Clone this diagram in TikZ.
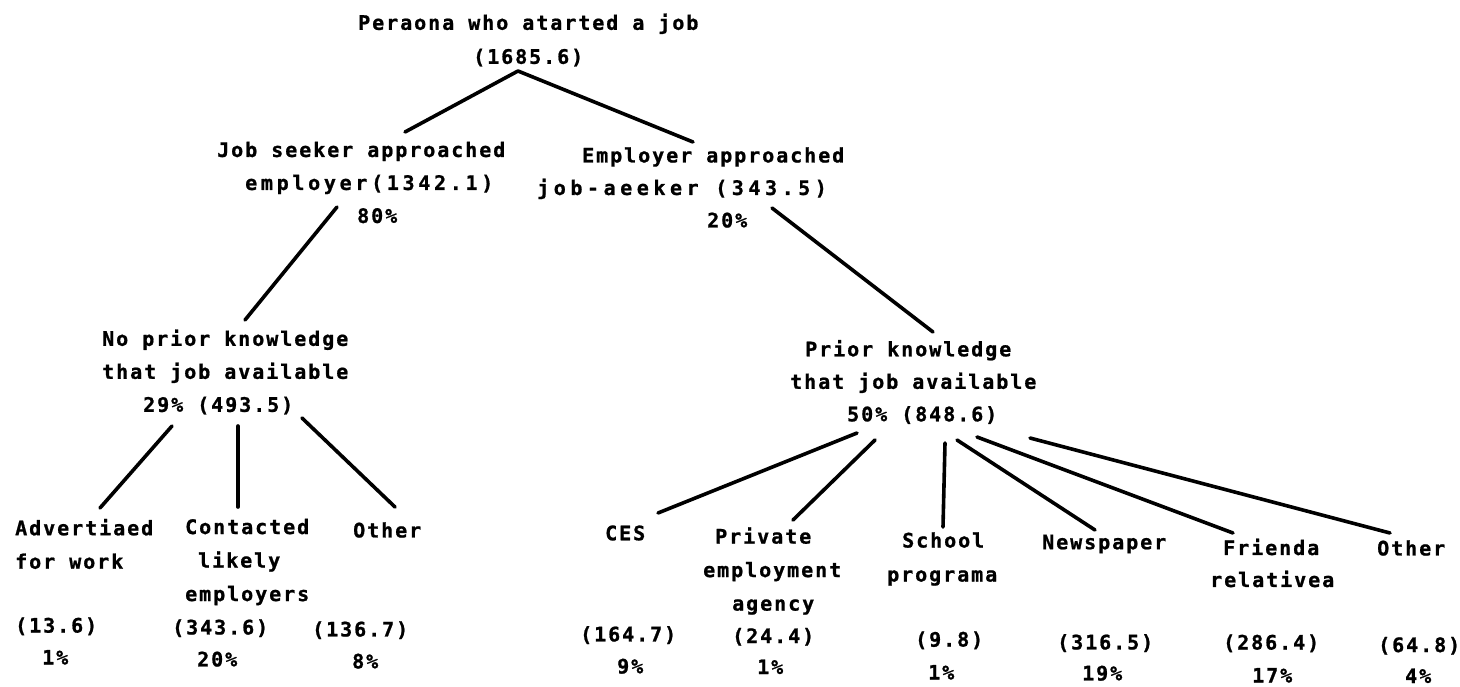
\documentclass[tikz,border=0pt]{standalone}
\usepackage{fontspec}
\newfontfamily\tw{DejaVu Sans Mono Bold}[LetterSpace=9.8,FakeBold=1]
\newcommand\twfont[1]{\tw\fontsize{20}{#1}\selectfont\spaceskip 14pt\relax}
\newcommand\widesp[2]{\addfontfeature{LetterSpace=#1}\spaceskip #2\relax}
\begin{document}
\begin{tikzpicture}[x=1pt,y=-1pt,
  lbl/.style={anchor=west,inner sep=0pt,align=left,font={\twfont{#1}}},
  lbl/.default=33,
  edge/.style={line width=3.6pt,line cap=round}]
\useasboundingbox (0,0) rectangle (1460,686);
% upper levels
\node[lbl=34] (root) at (358,40) {Peraona who atarted a job\\\hspace*{115pt}(1685.6)};
\node[lbl=33] (js) at (217,182.5) {Job seeker approached\\\hspace*{28pt}{\widesp{18.5}{15.75pt}employer(1342.1)}\\\hspace*{140pt}80\%};
\node[lbl=32.5] (ea) at (537,187.5) {\hspace*{45pt}Employer approached\\{\widesp{22.8}{16.6pt}job-aeeker (343.5)}\\\hspace*{170pt}20\%};
\node[lbl=33] (np) at (102,372) {No prior knowledge\\that job available\\\hspace*{41pt}29\% (493.5)};
\node[lbl=32.5] (pk) at (790,382) {\hspace*{15pt}Prior knowledge\\that job available\\\hspace*{57pt}50\% (848.6)};
% leaves
\node[lbl=33.5] (adv) at (15,544) {Advertiaed\\for work};
\node[lbl=32] (advv) at (15,641) {(13.6)\\\hspace*{27pt}1\%};
\node[lbl=33.5] (con) at (185,562) {Contacted\\\hspace*{13pt}likely\\employers};
\node[lbl=32] (conv) at (172,643) {(343.6)\\\hspace*{25pt}20\%};
\node[lbl] (oth1) at (353,530) {Other};
\node[lbl=32] (oth1v) at (312,645) {(136.7)\\\hspace*{40pt}8\%};
\node[lbl] (ces) at (605,533) {CES};
\node[lbl=32] (cesv) at (580,650) {(164.7)\\\hspace*{37pt}9\%};
\node[lbl=33.5] (pea) at (703,571) {\hspace*{12pt}Private\\employment\\\hspace*{29pt}agency};
\node[lbl=31] (peav) at (732,651) {(24.4)\\\hspace*{25pt}1\%};
\node[lbl=34] (sch) at (887,559) {\hspace*{15pt}School\\programa};
\node[lbl=33] (schv) at (915,655.5) {(9.8)\\\hspace*{13pt}1\%};
\node[lbl] (news) at (1042,544) {Newspaper};
\node[lbl=31] (newsv) at (1057,657.5) {(316.5)\\\hspace*{25pt}19\%};
\node[lbl=32] (fr) at (1210,563) {\hspace*{13pt}Frienda\\relativea};
\node[lbl=33] (frv) at (1223,658.5) {(286.4)\\\hspace*{29pt}17\%};
\node[lbl] (oth2) at (1377,548) {Other};
\node[lbl=31] (oth2v) at (1378,660) {(64.8)\\\hspace*{27pt}4\%};
% connectors
\draw[edge] ([shift={(160,31)}]root.west) -- ([shift={(188,-50.5)}]js.west);
\draw[edge] ([shift={(160,31)}]root.west) -- ([shift={(156,-45.5)}]ea.west);
\draw[edge] ([shift={(120,24.5)}]js.west) -- ([shift={(143,-52)}]np.west);
\draw[edge] ([shift={(235,20.5)}]ea.west) -- ([shift={(143,-50)}]pk.west);
\draw[edge] ([shift={(70,54)}]np.west) -- ([shift={(85,-36)}]adv.west);
\draw[edge] ([shift={(136,54)}]np.west) -- ([shift={(53,-55)}]con.west);
\draw[edge] ([shift={(200,46)}]np.west) -- ([shift={(42,-23)}]oth1.west);
\draw[edge] ([shift={(67,51)}]pk.west) -- ([shift={(53,-20)}]ces.west);
\draw[edge] ([shift={(85,58)}]pk.west) -- ([shift={(90,-51)}]pea.west);
\draw[edge] ([shift={(155,61)}]pk.west) -- ([shift={(56,-32)}]sch.west);
\draw[edge] ([shift={(167,58)}]pk.west) -- ([shift={(53,-14)}]news.west);
\draw[edge] ([shift={(187,55)}]pk.west) -- ([shift={(23,-30)}]fr.west);
\draw[edge] ([shift={(240,56)}]pk.west) -- ([shift={(13,-15)}]oth2.west);
\end{tikzpicture}
\end{document}
